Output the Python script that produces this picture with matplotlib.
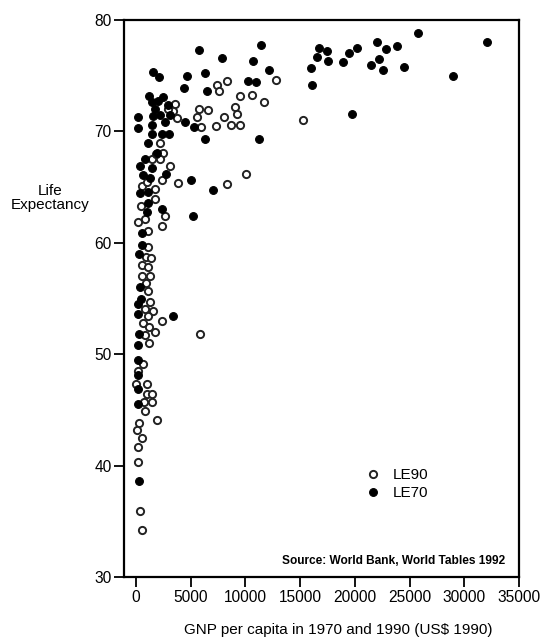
import matplotlib
matplotlib.use("Agg")
import matplotlib.pyplot as plt

# LE70: 1970 life expectancy vs GNP per capita (filled)
gnp70 = [25800, 32050, 28950, 16760, 17430, 16510, 17580, 15970, 16120, 18950,
         19470, 20230, 22000, 22850, 23830, 21450, 22240, 22600, 24500, 19710,
         5730, 7890, 11400, 10720, 12160, 6340, 4690, 1520, 2100, 4420,
         6520, 10210, 10940, 4480, 5300, 6310, 11240, 5000, 7010, 5240,
         1220, 2500, 1430, 2040, 2950, 1740, 1580, 2190, 3110, 2650,
         210, 150, 1430, 1430, 2350, 3050, 1070, 1890, 820, 370,
         1430, 670, 1280, 2700, 370, 1130, 1070, 980, 2400, 580,
         520, 270, 370, 460, 150, 210, 3410, 270, 210, 150,
         210, 210, 210, 300]
le70 = [78.8, 78.0, 75.0, 77.5, 77.2, 76.7, 76.3, 75.7, 74.2, 76.2,
        77.0, 77.5, 78.0, 77.4, 77.7, 76.0, 76.5, 75.5, 75.8, 71.6,
        77.3, 76.6, 77.8, 76.3, 75.5, 75.2, 75.0, 75.3, 74.9, 73.9,
        73.6, 74.5, 74.4, 70.8, 70.4, 69.3, 69.3, 65.6, 64.7, 62.4,
        73.2, 73.1, 72.6, 72.7, 72.4, 72.0, 71.4, 71.5, 71.5, 70.8,
        71.3, 70.3, 70.6, 69.8, 69.8, 69.8, 69.0, 68.1, 67.5, 66.9,
        66.7, 66.1, 65.8, 66.2, 64.5, 64.6, 63.6, 62.8, 63.0, 60.9,
        59.8, 59.0, 56.0, 55.0, 54.5, 53.6, 53.4, 51.8, 50.8, 49.5,
        48.1, 46.9, 45.5, 38.6]

# LE90: 1990 life expectancy vs GNP per capita (hollow)
gnp90 = [15230, 7370, 8290, 7620, 9510, 10570, 12770, 11700, 5790, 6610,
         5550, 9050, 9260, 8040, 7310, 8660, 9510, 5910, 10050, 8290,
         3870, 3560, 3410, 3720, 2190, 2500, 2190, 1430, 3110, 580,
         980, 1740, 2350, 460, 1740, 2650, 210, 820, 2400, 1130,
         1070, 890, 1370, 580, 1070, 580, 1280, 890, 1070, 1280,
         820, 1580, 1130, 2400, 670, 1190, 1740, 5850, 820, 1190,
         670, 210, 0, 980, 980, 1490, 760, 1490, 820, 1890,
         270, 60, 520, 210, 210, 370, 580, 1830, 2960]
le90 = [71.0, 74.2, 74.5, 73.6, 73.2, 73.3, 74.6, 72.6, 72.0, 71.9,
        71.3, 72.2, 71.6, 71.3, 70.5, 70.6, 70.6, 70.4, 66.2, 65.3,
        65.4, 72.5, 71.8, 71.2, 69.0, 68.1, 67.5, 67.5, 66.9, 65.1,
        65.5, 64.8, 65.6, 63.3, 63.9, 62.4, 61.9, 62.1, 61.5, 61.1,
        59.6, 58.7, 58.6, 58.0, 57.8, 57.0, 57.0, 56.4, 55.7, 54.7,
        54.1, 53.9, 53.4, 53.0, 52.8, 52.4, 52.0, 51.8, 51.7, 51.0,
        49.1, 48.5, 47.3, 47.3, 46.4, 46.4, 45.7, 45.7, 44.9, 44.1,
        43.8, 43.2, 42.5, 41.7, 40.3, 35.9, 34.2, 68.0, 72.0]

xticks = [0, 5000, 10000, 15000, 20000, 25000, 30000, 35000]
yticks = [30, 40, 50, 60, 70, 80]

FONT = ['Liberation Sans Narrow', 'Liberation Sans', 'DejaVu Sans']
plt.rcParams['font.family'] = FONT

fig = plt.figure(figsize=(5.46, 6.44), dpi=100)
ax = fig.add_axes([124/546, 1-577/644, 395/546, 557/644])

ax.plot(gnp90, le90, linestyle='none', marker='o', markersize=5.2,
        markerfacecolor='white', markeredgecolor='#222222', markeredgewidth=1.4,
        label='LE90')
ax.plot(gnp70, le70, linestyle='none', marker='o', markersize=5.6,
        markerfacecolor='black', markeredgecolor='black', markeredgewidth=0.8,
        label='LE70')

ax.set_xlim(-1100, 35000)
ax.set_ylim(30, 80)
ax.set_xticks(xticks)
ax.set_yticks(yticks)
ax.set_xticklabels([str(v) for v in xticks])
ax.set_yticklabels([str(v) for v in yticks])
ax.tick_params(axis='both', direction='out', length=7, width=1.3,
               labelsize=11.2, pad=2, colors='black')

for s in ax.spines.values():
    s.set_linewidth(1.6)
    s.set_color('black')

ax.legend(loc='center left', bbox_to_anchor=(0.612, 0.167), frameon=False,
          handlelength=1.0, handletextpad=0.8, labelspacing=0.25,
          borderpad=0, borderaxespad=0, fontsize=11)

ax.text(0.965, 0.028, 'Source: World Bank, World Tables 1992',
        transform=ax.transAxes, ha='right', va='center',
        fontsize=8.6, fontweight='bold', family=['Liberation Sans', 'DejaVu Sans'])

fig.text(50/546, 1-198/644, 'Life\nExpectancy', ha='center', va='center',
         fontsize=11, linespacing=1.0)
fig.text(338/546, 1-630/644, 'GNP per capita in 1970 and 1990 (US$ 1990)',
         ha='center', va='center', fontsize=11)

fig.savefig('out.png', dpi=100)
